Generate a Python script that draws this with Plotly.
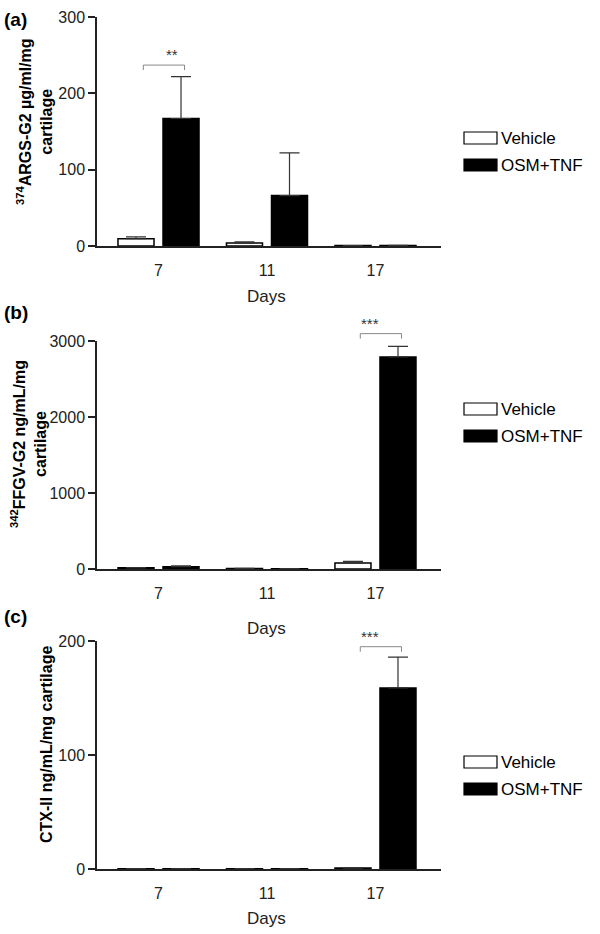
import plotly.graph_objects as go

days = ["7", "11", "17"]
groups = ["Vehicle", "OSM+TNF"]

# (a) 374ARGS-G2
args_vehicle = [9.5, 4, 0.5]
args_vehicle_err = [2.5, 1.5, 0]
args_osm = [167, 66, 0.8]
args_osm_err = [55, 56, 0]

# (b) 342FFGV-G2
ffgv_vehicle = [15, 5, 79]
ffgv_vehicle_err = [5, 2, 21]
ffgv_osm = [30, 3, 2790]
ffgv_osm_err = [12, 1, 140]

# (c) CTX-II
ctx_vehicle = [0.3, 0.3, 0.8]
ctx_vehicle_err = [0, 0, 0.2]
ctx_osm = [0.3, 0.3, 158.8]
ctx_osm_err = [0, 0, 27]

panel_labels = ["(a)", "(b)", "(c)"]
y_titles = [
    "<sup>374</sup>ARGS-G2 \u00b5g/ml/mg<br>cartilage",
    "<sup>342</sup>FFGV-G2 ng/mL/mg<br>cartilage",
    "CTX-II ng/mL/mg cartilage",
]
y_max = [300, 3000, 200]
y_dtick = [100, 1000, 100]
sig_labels = ["**", "***", "***"]
sig_day = [0, 2, 2]
sig_height = [237, 3097, 195]

vehicle = [args_vehicle, ffgv_vehicle, ctx_vehicle]
vehicle_err = [args_vehicle_err, ffgv_vehicle_err, ctx_vehicle_err]
osm = [args_osm, ffgv_osm, ctx_osm]
osm_err = [args_osm_err, ffgv_osm_err, ctx_osm_err]

W, H = 600, 934
FONT = "Liberation Sans, Arial, sans-serif"


def fx(px):
    return px / W


def fy(py):
    return 1 - py / H


# panel geometry in pixels (top, bottom) of each plot area
plot_px = [(17, 246), (341, 569), (641, 869)]
plot_x_px = (97, 441)
label_y_px = [19, 312, 616]
ytitle_px = [(35, 122), (28, 444), (46, 745)]
days_y_px = [297, 628, 918]
legend_y_px = [138, 409, 762]
xr = [-0.567, 2.604]

fig = go.Figure()
shapes = []
annotations = []

for k in range(3):
    xa = "x" if k == 0 else f"x{k + 1}"
    ya = "y" if k == 0 else f"y{k + 1}"
    for name, vals, errs, fill in [(groups[0], vehicle[k], vehicle_err[k], "white"),
                                   (groups[1], osm[k], osm_err[k], "black")]:
        fig.add_trace(go.Bar(
            x=list(range(len(days))), y=vals, name=name, xaxis=xa, yaxis=ya,
            marker=dict(color=fill, line=dict(color="black", width=1.5)),
            error_y=dict(type="data", array=errs, arrayminus=[0] * len(errs),
                         symmetric=False, color="#333", thickness=1.2, width=10),
            showlegend=False,
        ))

    top, bot = plot_px[k]
    axkey = "" if k == 0 else str(k + 1)
    fig.update_layout({
        f"xaxis{axkey}": dict(
            domain=[fx(plot_x_px[0]), fx(plot_x_px[1])], range=xr, anchor=ya,
            tickvals=list(range(len(days))), ticktext=days, automargin=False,
            showline=True, linecolor="#222", linewidth=1.5, ticks="",
            ticklabelstandoff=9, showgrid=False, zeroline=False,
            tickfont=dict(size=16, color="#222", family=FONT),
        ),
        f"yaxis{axkey}": dict(
            domain=[fy(bot), fy(top)], range=[0, y_max[k]], anchor=xa,
            dtick=y_dtick[k], showline=True, linecolor="#222", linewidth=1.5,
            ticks="outside", ticklen=7, tickwidth=1.5, tickcolor="#222",
            showgrid=False, zeroline=False, automargin=False,
            tickfont=dict(size=16, color="#222", family=FONT),
        ),
    })

    # significance bracket
    d = sig_day[k]
    x0 = (d - 0.14 - xr[0]) / (xr[1] - xr[0])
    x1 = (d + 0.24 - xr[0]) / (xr[1] - xr[0])
    yb = sig_height[k] / y_max[k]
    leg = 5 / (bot - top)
    line = dict(color="#888", width=1)
    for sx0, sy0, sx1, sy1 in [(x0, yb - leg, x0, yb), (x0, yb, x1, yb), (x1, yb, x1, yb - leg)]:
        shapes.append(dict(type="line", xref=f"{xa} domain", yref=f"{ya} domain",
                           x0=sx0, y0=sy0, x1=sx1, y1=sy1, line=line))
    annotations.append(dict(text=sig_labels[k], xref=f"{xa} domain", yref=f"{ya} domain",
                            x=(x0 + x1) / 2, y=yb, yanchor="bottom", yshift=0,
                            showarrow=False, font=dict(size=15, color="#333", family=FONT)))

    # panel label
    annotations.append(dict(text=f"<b>{panel_labels[k]}</b>", xref="paper", yref="paper",
                            x=fx(2), y=fy(label_y_px[k]), xanchor="left", yanchor="middle",
                            showarrow=False, font=dict(size=19, color="black", family=FONT)))
    # y title
    tx, ty = ytitle_px[k]
    annotations.append(dict(text=f"<b>{y_titles[k]}</b>", xref="paper", yref="paper",
                            x=fx(tx), y=fy(ty), textangle=-90, xanchor="center", yanchor="middle",
                            showarrow=False, font=dict(size=16, color="black", family=FONT)))
    # x title
    annotations.append(dict(text="Days", xref="paper", yref="paper",
                            x=fx(sum(plot_x_px) / 2 - 3), y=fy(days_y_px[k]),
                            xanchor="center", yanchor="middle",
                            showarrow=False, font=dict(size=17, color="#222", family=FONT)))

    # legend
    for i, (name, fill) in enumerate([(groups[0], "white"), (groups[1], "black")]):
        cy = legend_y_px[k] + i * 27
        shapes.append(dict(type="rect", xref="paper", yref="paper",
                           x0=fx(464), x1=fx(497), y0=fy(cy + 6), y1=fy(cy - 6),
                           fillcolor=fill, line=dict(color="black", width=1.2)))
        annotations.append(dict(text=name, xref="paper", yref="paper",
                                x=fx(499), y=fy(cy), xanchor="left", yanchor="middle",
                                showarrow=False, font=dict(size=17, color="black", family=FONT)))

fig.update_layout(
    width=W, height=H,
    margin=dict(l=0, r=0, t=0, b=0),
    barmode="group", bargap=0.17, bargroupgap=0.2,
    plot_bgcolor="white", paper_bgcolor="white",
    font=dict(family=FONT, color="#222"),
    shapes=shapes, annotations=annotations,
    showlegend=False,
)

# the page's default body margin would push the figure 8px down/right
fig.write_html("out.html", config={"displayModeBar": False},
               post_script="document.body.style.margin='0';")
